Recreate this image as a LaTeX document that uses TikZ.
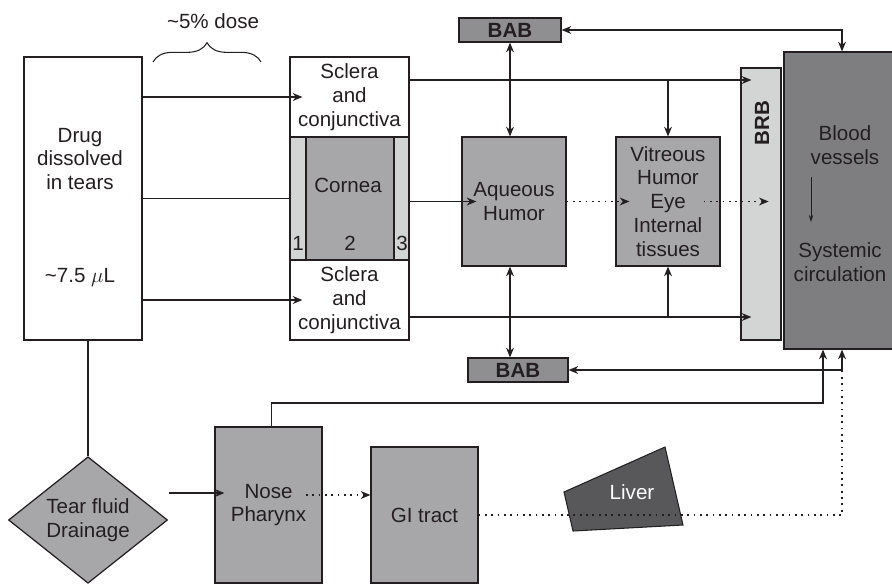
\documentclass[tikz,border=0pt]{standalone}
\usepackage{fontspec}
\setmainfont{Liberation Sans}
\usetikzlibrary{arrows.meta,calc,shapes.geometric,decorations.pathreplacing}
\definecolor{inkc}{HTML}{231F20}
\definecolor{boxgray}{HTML}{A7A7A9}
\definecolor{layergray}{HTML}{D3D4D4}
\definecolor{babgray}{HTML}{8F8F91}
\definecolor{bloodgray}{HTML}{7E7E80}
\definecolor{livergray}{HTML}{58585A}
\newcommand{\lbl}{\fontsize{11.7}{13.6}\selectfont}
\tikzset{
  sz/.style 2 args={minimum width=#1*0.02cm, minimum height=#2*0.02cm},
  box/.style={draw=inkc, line width=0.7pt, inner sep=0pt, align=center},
  arr/.style={-{Stealth[length=5.5pt,width=4.5pt]}, line width=0.6pt, draw=inkc},
  dblarr/.style={{Stealth[length=5.5pt,width=4.5pt]}-{Stealth[length=5.5pt,width=4.5pt]}, line width=0.6pt, draw=inkc},
  dots/.style={dash pattern=on 1pt off 2.6pt},
  plain/.style={line width=0.6pt, draw=inkc}
}
\begin{document}
\begin{tikzpicture}[x=0.02cm, y=-0.02cm, font=\lbl, every node/.append style={text=inkc}]
        \useasboundingbox (0,0) rectangle (892,583);
        % main boxes
        \node[box, fill=white, sz={118}{283}] (drug) at (83,198.5) {};
        \node at (80,159) [align=center] {Drug\\dissolved\\in tears};
        \node at (80,277) {\textasciitilde7.5 $\mu$L};
        \node[box, fill=white, sz={119}{80}] (sclup) at (349.5,97) {Sclera\\and\\conjunctiva};
        \node[box, fill=boxgray, sz={119}{123}] (cornea) at (349.5,198.5) {};
        \node[box, fill=layergray, sz={16}{123}, anchor=north west] (lay1) at (cornea.north west) {};
        \node[box, fill=layergray, sz={15}{123}, anchor=north east] (lay3) at (cornea.north east) {};
        \node at (348,185) {Cornea};
        \node at (298,243) {1};
        \node at (350,243) {2};
        \node at (402,243) {3};
        \node[box, fill=white, sz={119}{80}] (scllo) at (349.5,300) {Sclera\\and\\conjunctiva};
        \node[box, fill=babgray, sz={102}{24}, font=\lbl\bfseries] (babup) at (510,30) {BAB};
        \node[box, fill=babgray, sz={100}{24}, font=\lbl\bfseries] (bablo) at (518,370) {BAB};
        \node[box, fill=boxgray, sz={104}{129}] (aq) at (514,201.5) {Aqueous\\Humor};
        \node[box, fill=boxgray, sz={104}{129}] (vit) at (668,201.5) {Vitreous\\Humor\\Eye\\Internal\\tissues};
        \node[box, fill=layergray, sz={40}{272}] (brb) at (761,204) {};
        \node[rotate=90, font=\lbl\bfseries] at (762,123) {BRB};
        \node[box, fill=bloodgray, sz={110}{297}] (blood) at (839,200.5) {};
        \node[align=center] (bv) at (845,145) {Blood\\vessels};
        \node[align=center] (sc) at (840,262) {Systemic\\circulation};
        \node[diamond, box, fill=boxgray, sz={159}{120}] (tear) at (88,520) {Tear fluid\\Drainage};
        \node[box, fill=boxgray, sz={107}{156}] (nose) at (268.5,505) {Nose\\Pharynx};
        \node[box, fill=boxgray, sz={107}{136}] (gi) at (424.5,515) {GI tract};
        \filldraw[fill=livergray, draw=inkc, line width=0.6pt] (564,492) -- (665,447) -- (683,525) -- (573,531) -- cycle;
        \node[text=white] (liver) at (632,492) {Liver};
        % dose brace
        \draw[plain, decorate, decoration={brace, amplitude=11pt}] (153,62) -- (261,62);
        \node (dose) at (213,21) {\textasciitilde5\% dose};
        % junction points
        \coordinate (st) at (409,80);
        \coordinate (sb) at (409,317);
        \coordinate (tj) at (842,30);
        \coordinate (bj) at (842,371);
        \coordinate (nj) at (823,403);
        \coordinate (to) at (169,493);
        \coordinate (nd) at (306,495);
        \coordinate (bvs) at (811,177);
        \coordinate (sct) at (811,222);
        % tears to the eye
        \draw[arr] (drug.east |- sclup.west) -- ($(sclup.west)+(13,0)$);
        \draw[arr] (drug.east |- scllo.west) -- ($(scllo.west)+(13,0)$);
        \draw[plain] (drug.east |- cornea.west) -- (cornea.west);
        \draw[arr] (cornea.east |- aq.west) -- ($(aq.west)+(15,0)$);
        \draw[dblarr] (babup.south) -- (babup.south |- aq.north);
        \draw[dblarr] (babup.south |- aq.south) -- (babup.south |- bablo.north);
        \draw[arr] (st) -- ($(st -| brb.west)+(11,0)$);
        \draw[arr] (st -| vit.north) -- (vit.north);
        \draw[arr] (sb) -- ($(sb -| brb.west)+(11,0)$);
        \draw[arr] (sb -| vit.south) -- (vit.south);
        \draw[arr, dots] (aq.east) -- ($(vit.west)+(14,0)$);
        \draw[arr, dots] ($(vit.east)+(-17,0)$) -- ($(brb.east |- vit.east)+(-13,0)$);
        \draw[-{Stealth[length=4pt,width=2.5pt]}, line width=0.4pt, draw=inkc] (bvs) -- (sct);
        % barriers and blood
        \draw[dblarr] (babup.east) -| (blood.north -| tj);
        \draw[dblarr] (bablo.east) -| (blood.south -| bj);
        % drainage route
        \draw[plain] (tear.north |- drug.south) -- (tear.north);
        \draw[arr] (to) -- ($(to -| nose.west)+(10,0)$);
        \draw[arr, dots] (nd) -- (nd -| gi.west);
        \draw[arr] ($(nose.north)+(3,0)$) |- (nj) -- (nj |- blood.south);
        \draw[plain, dots] (gi.east) -| (bj);
\end{tikzpicture}
\end{document}
